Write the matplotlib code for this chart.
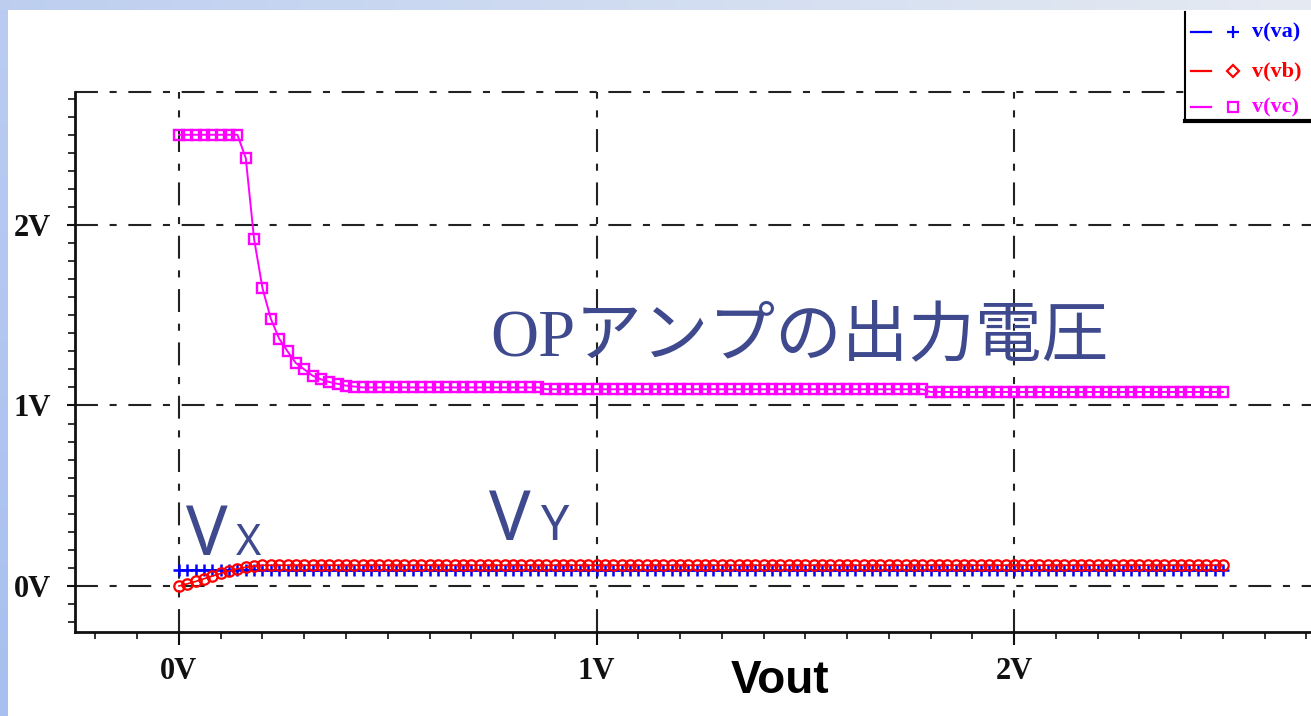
import numpy as np
import matplotlib
matplotlib.use("Agg")
import matplotlib.pyplot as plt
from matplotlib.lines import Line2D
from matplotlib.patches import Rectangle
from matplotlib.font_manager import FontProperties

W, H = 1311, 716
DPI = 100

# DC sweep of Vout (V), 0.02 V steps
vout = np.round(np.arange(126) * 0.02, 4)

# v(va): input reference node
va = [0.09] * 126

# v(vb): follows Vout at first, then settles
vb = ([0.0, 0.012, 0.025, 0.04, 0.055, 0.07, 0.083, 0.095, 0.104, 0.11]
      + [0.115] * 116)

# v(vc): op-amp output
vc = ([2.5] * 8
      + [2.37, 1.92, 1.65, 1.48, 1.37, 1.30, 1.235, 1.20, 1.165, 1.145,
         1.13, 1.12, 1.11, 1.105]
      + [1.10] * 22
      + [1.09] * 46
      + [1.075] * 36)

series_names = ["v(va)", "v(vb)", "v(vc)"]
series_colors = ["#0000ff", "#ff0000", "#ff00ff"]
series_markers = ["+", "o", "s"]

x_major = [0, 1, 2]
y_major = [0, 1, 2]
tick_labels = ["0V", "1V", "2V"]

title_text = "OPアンプの出力電圧"
xlabel_text = "Vout"

TEXT_BLUE = "#3f4a8e"
GRID_STYLE = (0, (11, 5.6, 3.4, 5.6))


def fx(px):
    return px / W


def fy(py):
    return 1 - py / H


fig = plt.figure(figsize=(W / DPI, H / DPI), dpi=DPI)
fig.patch.set_facecolor("white")

# slide background strips (top and left)
top_ax = fig.add_axes([0, fy(10), 1, 10 / H])
top_grad = np.linspace(0, 1, 256)[None, :, None]
c0 = np.array([0.74, 0.81, 0.94])[None, None, :]
c1 = np.array([0.90, 0.92, 0.95])[None, None, :]
top_ax.imshow(c0 + (c1 - c0) * top_grad, aspect="auto", extent=[0, 1, 0, 1])
top_ax.set_axis_off()

left_ax = fig.add_axes([0, 0, 8 / W, fy(10)])
left_grad = np.linspace(0, 1, 256)[:, None, None]
d0 = np.array([0.73, 0.80, 0.95])[None, None, :]
d1 = np.array([0.66, 0.75, 0.94])[None, None, :]
left_ax.imshow(d0 + (d1 - d0) * left_grad, aspect="auto", extent=[0, 1, 0, 1])
left_ax.set_axis_off()

# main plot area
ax = fig.add_axes([fx(75), fy(632), 1 - fx(75), (632 - 92) / H])
ax.set_xlim(-0.249, 2.711)
ax.set_ylim(-0.255, 2.737)
ax.set_facecolor("white")

for sp in ("top", "right"):
    ax.spines[sp].set_visible(False)
for sp in ("left", "bottom"):
    ax.spines[sp].set_linewidth(2.0)
    ax.spines[sp].set_color("#111111")

ax.set_xticks(x_major)
ax.set_xticklabels(tick_labels)
ax.set_yticks(y_major)
ax.set_yticklabels(tick_labels)
ax.set_xticks(np.round(np.arange(-0.2, 2.71, 0.1), 2), minor=True)
ax.set_yticks(np.round(np.arange(-0.2, 2.71, 0.1), 2), minor=True)

lab_font = FontProperties(family=["Liberation Serif", "DejaVu Serif"],
                          weight="bold", size=22)
for lab in ax.get_xticklabels() + ax.get_yticklabels():
    lab.set_fontproperties(lab_font)
    lab.set_color("#111111")

ax.tick_params(axis="x", which="major", direction="out", length=9, width=1.5,
               pad=9, colors="#111111")
ax.tick_params(axis="x", which="minor", direction="out", length=5, width=1.2,
               colors="#111111")
ax.tick_params(axis="y", which="major", direction="out", length=6, width=1.5,
               pad=11, colors="#111111")
ax.tick_params(axis="y", which="minor", direction="out", length=5, width=1.2,
               colors="#111111")

ax.grid(True, which="major", color="#222222", linewidth=1.5, linestyle=GRID_STYLE)
ax.axhline(ax.get_ylim()[1], color="#222222", linewidth=1.5,
           linestyle=GRID_STYLE, clip_on=False, zorder=1)

# curves
ax.plot(vout, va, color=series_colors[0], marker=series_markers[0],
        markersize=9, markeredgewidth=1.8, linewidth=1.2, zorder=3)
ax.plot(vout, vb, color=series_colors[1], marker=series_markers[1],
        markersize=7.5, markeredgewidth=1.6, markerfacecolor="none",
        linewidth=1.2, zorder=4)
ax.plot(vout, vc, color=series_colors[2], marker=series_markers[2],
        markersize=7.3, markeredgewidth=1.7, markerfacecolor="none",
        linewidth=1.4, zorder=5)

# annotations
fig.text(fx(490), fy(338), title_text, color=TEXT_BLUE, fontsize=48,
         family=["Liberation Serif", "Noto Sans CJK JP"], ha="left", va="center")
sans = ["Noto Sans", "DejaVu Sans"]
fig.text(fx(186), fy(555), "V", color=TEXT_BLUE, fontsize=50, family=sans,
         ha="left", va="baseline")
fig.text(fx(236), fy(555), "X", color=TEXT_BLUE, fontsize=31, family=sans,
         ha="left", va="baseline")
fig.text(fx(489), fy(540), "V", color=TEXT_BLUE, fontsize=50, family=sans,
         ha="left", va="baseline")
fig.text(fx(540), fy(540), "Y", color=TEXT_BLUE, fontsize=36, family=sans,
         ha="left", va="baseline")

fig.text(fx(780), fy(681), xlabel_text, color="black", fontsize=33,
         family=["Liberation Sans Narrow", "Liberation Sans"], weight="bold",
         ha="center", va="center")

# legend box in the top-right corner
fig.patches.append(Rectangle((fx(1185), fy(121)), 1 - fx(1185), (121 - 12) / H,
                             transform=fig.transFigure, facecolor="white",
                             edgecolor="none", zorder=10))
fig.lines.append(Line2D([fx(1185), fx(1185)], [fy(12), fy(121)],
                        transform=fig.transFigure, color="black", lw=1.5, zorder=11))
fig.lines.append(Line2D([fx(1185), 1], [fy(121), fy(121)],
                        transform=fig.transFigure, color="black", lw=3, zorder=11))
row_y = [32, 71, 107]
for name, col, mk, ry in zip(series_names, series_colors, series_markers, row_y):
    fig.lines.append(Line2D([fx(1191), fx(1211)], [fy(ry), fy(ry)],
                            transform=fig.transFigure, color=col, lw=1.6, zorder=12))
    fig.lines.append(Line2D([fx(1233)], [fy(ry)], transform=fig.transFigure,
                            color=col, marker="D" if mk == "o" else mk,
                            markersize=9 if mk == "+" else 6.5,
                            markerfacecolor="none", markeredgewidth=1.6,
                            linestyle="none", zorder=12))
    fig.text(fx(1252), fy(ry), name, color=col, fontsize=16, weight="bold",
             family=["Liberation Serif", "DejaVu Serif"], ha="left", va="center",
             zorder=12)

fig.savefig("out.png", dpi=DPI)
